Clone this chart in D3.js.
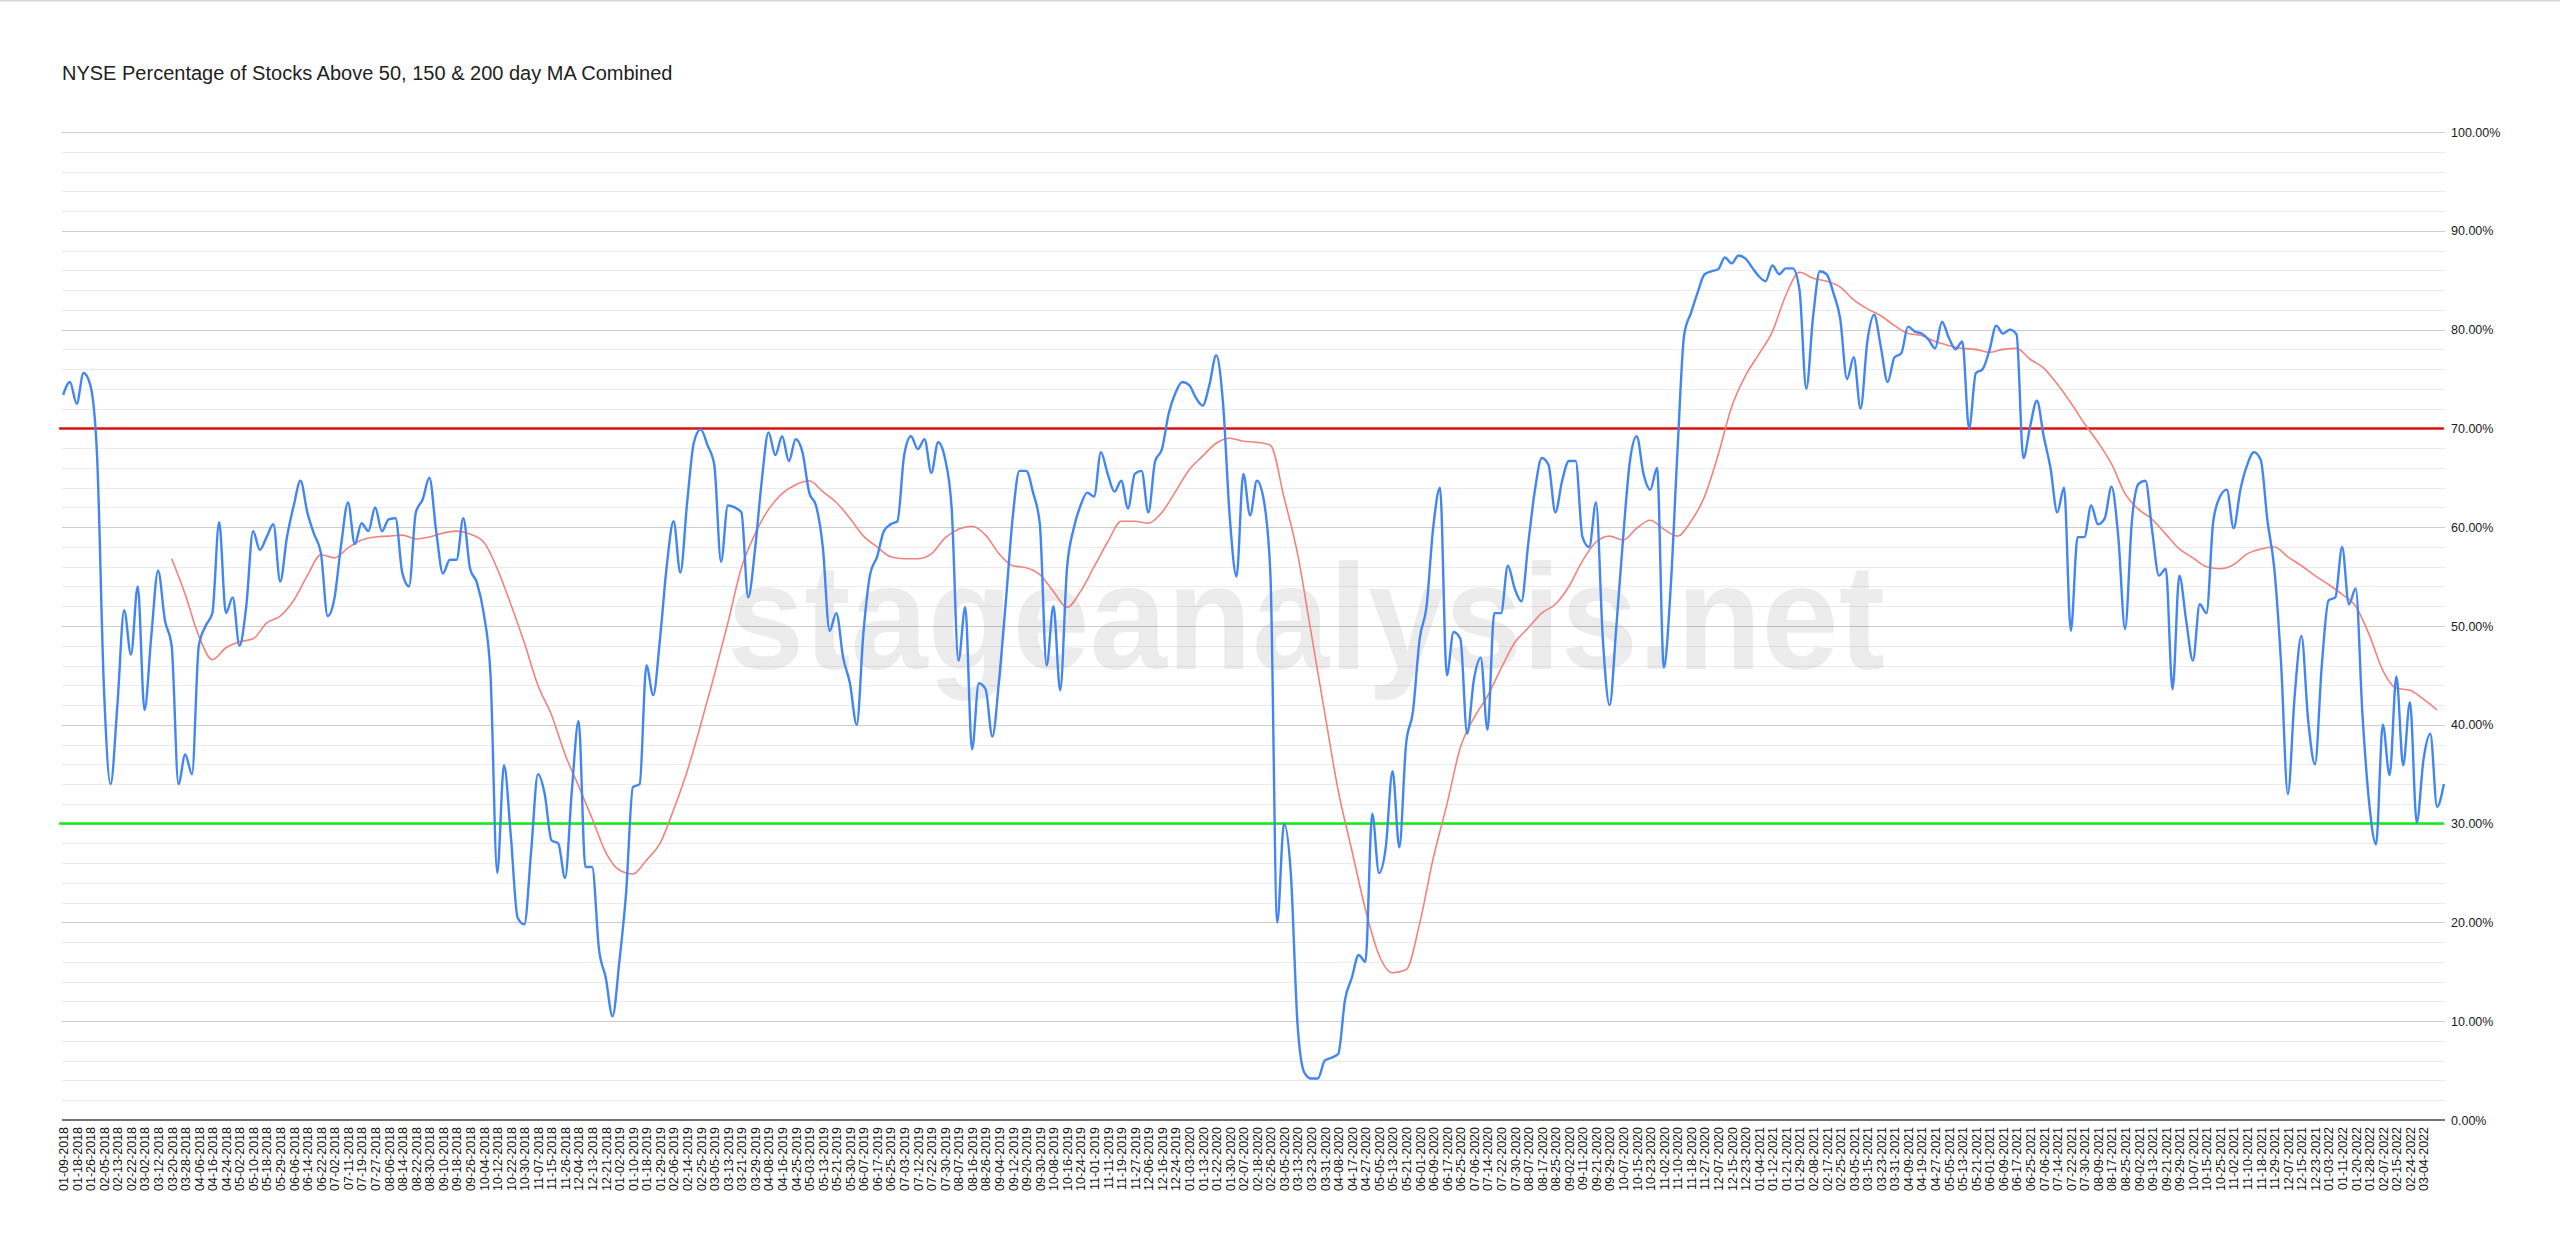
<!DOCTYPE html>
<html><head><meta charset="utf-8">
<script src="https://cdn.jsdelivr.net/npm/d3@7"></script>
<style>html,body{margin:0;padding:0;background:#fff;} svg{display:block;font-family:"Liberation Sans",Arial,sans-serif;}</style>
</head><body><svg id="chart" width="2560" height="1250"></svg>
<script>
const titleText = "NYSE Percentage of Stocks Above 50, 150 & 200 day MA Combined";
const watermarkText = "stageanalysis.net";

// x-axis category labels (one every 6 trading days)
const tickLabels = [
"01-09-2018","01-18-2018","01-26-2018","02-05-2018","02-13-2018","02-22-2018","03-02-2018","03-12-2018","03-20-2018","03-28-2018","04-06-2018","04-16-2018","04-24-2018","05-02-2018","05-10-2018","05-18-2018","05-29-2018","06-06-2018","06-14-2018","06-22-2018","07-02-2018","07-11-2018","07-19-2018","07-27-2018","08-06-2018","08-14-2018","08-22-2018","08-30-2018","09-10-2018","09-18-2018","09-26-2018","10-04-2018","10-12-2018","10-22-2018","10-30-2018","11-07-2018","11-15-2018","11-26-2018","12-04-2018","12-13-2018","12-21-2018",
"01-02-2019","01-10-2019","01-18-2019","01-29-2019","02-06-2019","02-14-2019","02-25-2019","03-05-2019","03-13-2019","03-21-2019","03-29-2019","04-08-2019","04-16-2019","04-25-2019","05-03-2019","05-13-2019","05-21-2019","05-30-2019","06-07-2019","06-17-2019","06-25-2019","07-03-2019","07-12-2019","07-22-2019","07-30-2019","08-07-2019","08-16-2019","08-26-2019","09-04-2019","09-12-2019","09-20-2019","09-30-2019","10-08-2019","10-16-2019","10-24-2019","11-01-2019","11-11-2019","11-19-2019","11-27-2019","12-06-2019","12-16-2019","12-24-2019",
"01-03-2020","01-13-2020","01-22-2020","01-30-2020","02-07-2020","02-18-2020","02-26-2020","03-05-2020","03-13-2020","03-23-2020","03-31-2020","04-08-2020","04-17-2020","04-27-2020","05-05-2020","05-13-2020","05-21-2020","06-01-2020","06-09-2020","06-17-2020","06-25-2020","07-06-2020","07-14-2020","07-22-2020","07-30-2020","08-07-2020","08-17-2020","08-25-2020","09-02-2020","09-11-2020","09-21-2020","09-29-2020","10-07-2020","10-15-2020","10-23-2020","11-02-2020","11-10-2020","11-18-2020","11-27-2020","12-07-2020","12-15-2020","12-23-2020",
"01-04-2021","01-12-2021","01-21-2021","01-29-2021","02-08-2021","02-17-2021","02-25-2021","03-05-2021","03-15-2021","03-23-2021","03-31-2021","04-09-2021","04-19-2021","04-27-2021","05-05-2021","05-13-2021","05-21-2021","06-01-2021","06-09-2021","06-17-2021","06-25-2021","07-06-2021","07-14-2021","07-22-2021","07-30-2021","08-09-2021","08-17-2021","08-25-2021","09-02-2021","09-13-2021","09-21-2021","09-29-2021","10-07-2021","10-15-2021","10-25-2021","11-02-2021","11-10-2021","11-18-2021","11-29-2021","12-07-2021","12-15-2021","12-23-2021",
"01-03-2022","01-11-2022","01-20-2022","01-28-2022","02-07-2022","02-15-2022","02-24-2022","03-04-2022"
];
const labelStep = 6;      // rows between x labels
const rowCount = 1054;    // trading-day rows in the sheet

// % of stocks above MAs, read every 3rd trading day
const blueStep = 3;
const blueValues = [
73.4,74.7,72.5,75.6,74.4,67.3,44,34,42,51.6,
47.1,54,41.5,49,55.6,50.6,48,34,37,35,
48,50,51.3,60.5,51.3,52.9,48,52,59.6,57.7,
59,60.3,54.5,59,62.2,64.7,61.5,59.3,57.4,51,
52.8,58.3,62.5,58.3,60.4,59.6,62,59.6,60.8,60.9,
55.4,54,61.5,62.8,65,59.6,55.3,56.7,56.7,60.9,
55.8,54.4,51.3,45.2,25,35.9,28.8,20.5,19.8,
27.2,35,33,28.3,28,24.5,33.3,40.4,25.6,25.6,
17.3,14.4,10.5,16,23,33.7,34,46,43,48.7,
56.1,60.6,55.4,62.5,68.6,69.9,68.3,66.3,56.5,62.2,
62,61.5,52.9,57.7,64.7,69.6,67.3,69.2,66.7,68.9,
67.6,63.5,62.2,58,49.5,51.3,46.8,44.2,40,49.4,
55.3,57,59.6,60.3,60.6,67.3,69.2,67.9,68.9,65.5,
68.6,67,61.9,46.5,51.9,37.5,44.2,43.6,38.8,44.6,
52.6,
61,65.7,65.7,63.5,60.3,46,52,43.5,55.8,59.9,
62.2,63.5,63.1,67.6,65.4,63.6,64.7,61.9,65.4,65.7,
61.5,66.7,67.9,71.5,73.6,74.7,74.4,73.1,72.3,74.4,
77.4,72.6,61,55,65.4,61.2,64.7,62.8,55.1,20,
30,25,9.6,4.8,4.2,4.2,6,6.3,6.7,12.2,
14.4,16.7,16,31,25,27.6,35.3,27.6,38.1,41.3,
48.7,51.9,60,64,45,49.4,48.7,39.1,44.6,46.8,
39.5,
51.3,51.3,56.1,53.8,52.5,58.3,63.8,67,66.3,61.5,
64.7,66.7,66.7,59,58,62.5,48.7,42,50,59,
66.7,69.2,65.4,63.8,66,45.8,53.8,67.6,79.5,81.7,
83.8,85.6,85.9,86.1,87.3,86.7,87.5,87.2,86.3,85.4,
84.9,86.5,85.6,86.2,86.2,84,74,81.3,85.9,85.6,
83.7,81.1,75,77.2,72,78.8,81.5,78.2,74.7,77.2,
77.6,80.3,79.8,79.6,79,78.1,80.8,79.2,78,78.8,
70,
75.6,76,77.9,80.4,79.6,80,79.5,67,70.2,72.8,
69.2,66,61.5,64,49.5,59,59,62.2,60.3,60.9,
64.1,59,49.7,60.6,64.4,64.7,59.6,55.1,55.8,43.6,
55.1,50.6,46.5,52.2,51.3,60.6,63.1,63.8,59.9,63.8,
66.3,67.6,66.8,60.6,55.8,46.2,33,42.9,49,40.4,
36,46,52.6,52.9,58,52.2,53.8,41,32,27.9,
40,34.9,44.9,35.9,42.3,30.1,36.5,39.1,31.7,34
];

// moving average, read every 6th trading day starting at row 48
const maStartRow = 48;
const maStep = 6;
const maValues = [
56.8,53.2,49,46.6,47.8,48.4,48.7,50.3,51,52.6,55.1,57.2,56.9,57.9,58.7,59,59.1,59.2,58.8,59,59.4,59.6,59.3,58.5,55.8,52.2,48.3,
44,41,37,33.8,30.5,27.1,25.3,24.9,26.3,28,31.4,35.3,40,45,50.3,55.9,59.3,61.8,63.4,64.3,64.7,63.6,62.5,60.9,59.1,58,57,56.8,56.8,57.3,58.9,59.8,60.1,59.2,57.3,
56.1,55.9,55.2,53.5,51.9,53.5,56,58.5,60.6,60.6,60.4,61.5,63.6,65.8,67.2,68.5,69,68.7,68.6,68.3,63,57.3,49.3,41.2,33.3,27.3,21.3,16.7,14.9,15.2,19.9,26.5,31.9,37.7,40.7,42.9,
45.7,48.3,49.8,51.3,52.2,54,56.6,58.5,59.1,58.7,59.9,60.7,59.8,59.1,60.6,63.1,67.3,72.2,75.3,77.5,79.8,83.5,85.8,85.2,84.9,84.3,83,82.1,81.4,80.4,79.6,79.4,78.8,78.4,78.1,
78,77.7,78,78.1,77,76.1,74.5,72.6,70.5,68.6,66.4,63.4,61.8,60.8,59.3,57.8,56.9,56,55.8,56.2,57.3,57.8,58,57,56.1,55.1,54.2,53.2,52,49.1,45.5,43.7,43.5,42.6,41.5
];

const upperLevel = 70;
const lowerLevel = 30;
const majorTicks = d3.range(0, 101, 10);
const minorTicks = d3.range(0, 101, 2).filter(v => v % 10 !== 0);

const svg = d3.select("#chart");
const W = 2560, H = 1250;
const plotLeft = 62, plotRight = 2445, plotTop = 132, plotBottom = 1120;

const x = d3.scaleLinear().domain([-0.5, rowCount - 0.5]).range([plotLeft, plotRight]);
const y = d3.scaleLinear().domain([0, 100]).range([plotBottom, plotTop]);

svg.append("rect").attr("width", W).attr("height", H).attr("fill", "#fff");
svg.append("line").attr("x1", 0).attr("x2", W).attr("y1", 0.5).attr("y2", 0.5)
  .attr("stroke", "#d4d4d4").attr("stroke-width", 2);

svg.append("text").attr("x", plotLeft).attr("y", 80)
  .attr("font-size", 20).attr("fill", "#222").text(titleText);

// gridlines
const grid = svg.append("g");
grid.selectAll("line.minor").data(minorTicks).join("line").attr("class", "minor")
  .attr("x1", plotLeft).attr("x2", plotRight)
  .attr("y1", d => Math.round(y(d)) + 0.5).attr("y2", d => Math.round(y(d)) + 0.5)
  .attr("stroke", "#ebebeb").attr("stroke-width", 1);
grid.selectAll("line.major").data(majorTicks.filter(v => v > 0)).join("line").attr("class", "major")
  .attr("x1", plotLeft).attr("x2", plotRight)
  .attr("y1", d => Math.round(y(d)) + 0.5).attr("y2", d => Math.round(y(d)) + 0.5)
  .attr("stroke", "#cccccc").attr("stroke-width", 1);

// watermark
svg.append("text").attr("x", 1306).attr("y", 669).attr("text-anchor", "middle")
  .attr("font-size", 150).attr("font-weight", "bold")
  .attr("textLength", 1158).attr("lengthAdjust", "spacingAndGlyphs")
  .attr("fill", "#000").attr("fill-opacity", 0.075).text(watermarkText);

// y axis (right)
const yAxis = d3.axisRight(y).tickValues(majorTicks).tickSize(0).tickPadding(6)
  .tickFormat(d => d3.format(".2f")(d) + "%");
const gy = svg.append("g").attr("transform", `translate(${plotRight},0)`).call(yAxis);
gy.select(".domain").remove();
gy.selectAll("text").attr("font-size", 12.5).attr("fill", "#1a1a1a")
  .attr("font-family", '"Liberation Sans",Arial,sans-serif');

// x axis
const labelRows = tickLabels.map((_, i) => i * labelStep);
const xAxis = d3.axisBottom(x).tickValues(labelRows).tickSize(0)
  .tickFormat((d, i) => tickLabels[i]);
const gx = svg.append("g").attr("transform", `translate(0,${plotBottom})`).call(xAxis);
gx.select(".domain").remove();
gx.selectAll("text")
  .attr("transform", "rotate(-90)")
  .attr("x", -7).attr("y", 0).attr("dy", "0.35em")
  .attr("text-anchor", "end")
  .attr("font-size", 12.5).attr("fill", "#111")
  .attr("font-family", '"Liberation Sans",Arial,sans-serif');

// threshold lines
const levelLine = d3.line().x(d => d[0]).y(d => y(d[1]));
svg.append("path").datum([[x(0) - 4, upperLevel], [x(rowCount - 1), upperLevel]])
  .attr("d", levelLine).attr("stroke", "#dd1010").attr("stroke-width", 2.5).attr("fill", "none");
svg.append("path").datum([[x(0) - 4, lowerLevel], [x(rowCount - 1), lowerLevel]])
  .attr("d", levelLine).attr("stroke", "#14ea14").attr("stroke-width", 2.5).attr("fill", "none");

// moving average
const maData = maValues.map((v, i) => ({row: maStartRow + i * maStep, v}));
svg.append("path").datum(maData)
  .attr("d", d3.line().x(d => x(d.row)).y(d => y(d.v)).curve(d3.curveMonotoneX))
  .attr("fill", "none").attr("stroke", "#f4827c").attr("stroke-width", 1.6);

// main series
const blueData = blueValues.map((v, i) => ({row: i * blueStep, v}));
svg.append("path").datum(blueData)
  .attr("d", d3.line().x(d => x(d.row)).y(d => y(d.v)).curve(d3.curveMonotoneX))
  .attr("fill", "none").attr("stroke", "#4285f4").attr("stroke-width", 2.4)
  .attr("stroke-linejoin", "round");

// baseline
svg.append("line").attr("x1", plotLeft).attr("x2", plotRight)
  .attr("y1", plotBottom).attr("y2", plotBottom)
  .attr("stroke", "#444").attr("stroke-width", 1.5);
</script></body></html>
